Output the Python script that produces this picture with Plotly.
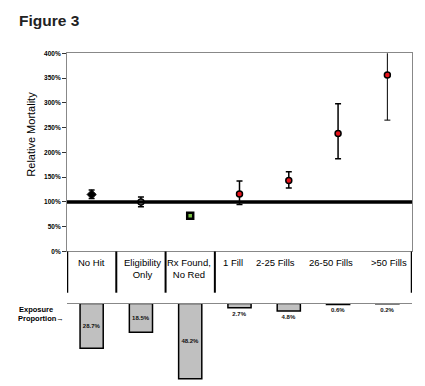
import plotly.graph_objects as go

# ---- data ----
categories = ["No Hit", "Eligibility Only", "Rx Found, No Red", "1 Fill",
              "2-25 Fills", "26-50 Fills", ">50 Fills"]
cat_labels = ["No Hit", "Eligibility<br>Only", "Rx Found,<br>No Red", "1 Fill",
              "2-25 Fills", "26-50 Fills", ">50 Fills"]
rel_mortality = [115, 100, 72, 116, 143, 238, 356]
ci_upper = [124, 110, 75, 142, 161, 298, 478]
ci_lower = [107, 90, 69, 95, 128, 187, 265]
exposure = [28.7, 18.5, 48.2, 2.7, 4.8, 0.6, 0.2]
exposure_text = ["28.7%", "18.5%", "48.2%", "2.7%", "4.8%", "0.6%", "0.2%"]
y_ticks = [0, 50, 100, 150, 200, 250, 300, 350, 400]
y_tick_text = ["0%", "50%", "100%", "150%", "200%", "250%", "300%", "350%", "400%"]

OFF = 8  # page body margin
W, H = 425 - OFF, 386 - OFF
def py(p):  # window pixel row -> paper y
    return 1 - (p - OFF) / H
def px(p):
    return (p - OFF) / W

FONT = "Arial, Liberation Sans, Helvetica, sans-serif"
xs = list(range(len(categories)))

fig = go.Figure()

styles = [
    dict(symbol="diamond", color="black", line=dict(color="black", width=1), size=7),
    dict(symbol="circle", color="white", line=dict(color="black", width=1.5), size=6),
    dict(symbol="square", color="#7ac143", line=dict(color="black", width=2.5), size=6),
    dict(symbol="circle", color="#e8141c", line=dict(color="black", width=1.5), size=6),
]
groups = [[0], [1], [2], [3, 4, 5, 6]]
for g, st in zip(groups, styles):
    for i in g:
        fig.add_trace(go.Scatter(
            x=[xs[i]], y=[rel_mortality[i]], mode="markers",
            marker=st,
            error_y=dict(type="data", symmetric=False,
                         array=[ci_upper[i] - rel_mortality[i]],
                         arrayminus=[rel_mortality[i] - ci_lower[i]],
                         color="black", thickness=1 if i == 6 else 1.5,
                         width=3),
            xaxis="x", yaxis="y", showlegend=False, hoverinfo="skip"))

# exposure bars (hanging downward)
fig.add_trace(go.Bar(
    x=xs, y=exposure, xaxis="x", yaxis="y2", width=0.47,
    marker=dict(color="#c0c0c0", line=dict(color="black", width=1.5)),
    text=exposure_text,
    textposition=["inside", "inside", "inside", "outside", "outside", "outside", "outside"],
    insidetextanchor="middle", textangle=0, constraintext="none",
    textfont=dict(family=FONT, size=6, color="#111", weight="bold"),
    cliponaxis=False, showlegend=False, hoverinfo="skip"))

fig.update_layout(
    width=W, height=H, margin=dict(l=0, r=0, t=0, b=0),
    paper_bgcolor="white", plot_bgcolor="white",
    font=dict(family=FONT, color="black"),
    xaxis=dict(domain=[px(67), px(412)], range=[-0.5, 6.5], anchor="y",
               showticklabels=False, ticks="", showgrid=False, zeroline=False,
               showline=True, linecolor="#888", linewidth=1, mirror=True),
    yaxis=dict(domain=[py(252), py(50)], range=[0, 400], anchor="x",
               tickvals=y_ticks, ticktext=y_tick_text, ticks="outside",
               ticklen=4, tickcolor="#333", tickwidth=1,
               tickfont=dict(family=FONT, size=6.5, weight="bold"),
               showgrid=False, zeroline=False,
               showline=True, linecolor="#888", linewidth=1, mirror=True),
    yaxis2=dict(domain=[0, py(305)], range=[51, 0], anchor="x",
                showticklabels=False, ticks="", showgrid=False,
                zeroline=False, showline=False),
)

# thick reference line at 100%
fig.add_shape(type="line", xref="x domain", yref="y", x0=0, x1=1,
              y0=100, y1=100, line=dict(color="black", width=3.5))

# category separators in label band
for b, wdt in [(-0.5, 2.5), (0.5, 2), (1.5, 2), (2.5, 2), (6.5, 2.5)]:
    fig.add_shape(type="line", xref="x", yref="paper", x0=b, x1=b,
                  y0=py(252), y1=py(294), line=dict(color="black", width=wdt))

# baseline for exposure bars
fig.add_shape(type="line", xref="x", yref="paper", x0=-0.5, x1=6.5,
              y0=py(305), y1=py(305), line=dict(color="#888", width=1))

# category labels
label_shift = [0, 2, -1, -7, -13, -7, 2]
for i, lab in enumerate(cat_labels):
    fig.add_annotation(x=xs[i], y=py(256), xref="x", yref="paper",
                       text=lab, showarrow=False, xanchor="center", yanchor="top",
                       xshift=label_shift[i], align="center",
                       font=dict(family=FONT, size=9.5, color="black"))

# title and axis title
fig.add_annotation(x=px(17), y=py(17), xref="paper", yref="paper",
                   text="<b>Figure 3</b>", showarrow=False,
                   xanchor="left", yanchor="middle",
                   font=dict(family=FONT, size=15.5, color="#222"))
fig.add_annotation(x=px(31), y=py(133), xref="paper", yref="paper",
                   text="Relative Mortality", showarrow=False, textangle=-90,
                   xanchor="center", yanchor="middle",
                   font=dict(family=FONT, size=11, color="black"))
fig.add_annotation(x=px(36), y=py(311), xref="paper", yref="paper",
                   text="Exposure", showarrow=False,
                   xanchor="center", yanchor="middle",
                   font=dict(family=FONT, size=7.5, color="black", weight="bold"))
fig.add_annotation(x=px(41), y=py(320), xref="paper", yref="paper",
                   text="Proportion\u2192", showarrow=False,
                   xanchor="center", yanchor="middle",
                   font=dict(family=FONT, size=7.5, color="black", weight="bold"))

fig.write_html("out.html")
